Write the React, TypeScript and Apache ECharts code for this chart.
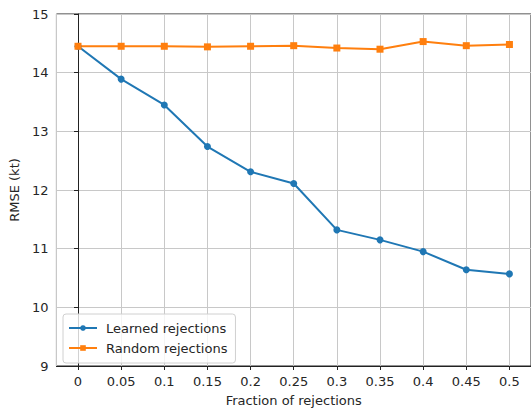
import React, { useEffect, useRef } from "react";
import * as echarts from "echarts";

const xValues = [0, 0.05, 0.1, 0.15, 0.2, 0.25, 0.3, 0.35, 0.4, 0.45, 0.5];
const learned = [14.45, 13.89, 13.45, 12.74, 12.31, 12.11, 11.32, 11.15, 10.95, 10.64, 10.57];
const random = [14.45, 14.45, 14.45, 14.44, 14.45, 14.46, 14.42, 14.4, 14.53, 14.46, 14.48];
const seriesNames = ["Learned rejections", "Random rejections"];

export default function App() {
  const ref = useRef<HTMLDivElement>(null);
  useEffect(() => {
    document.body.style.margin = "0";
    const chart = echarts.init(ref.current!, null, { renderer: "svg" });
    const font = "DejaVu Sans";
    const textColor = "#262626";
    const fs = 13;
    chart.setOption({
      animation: false,
      textStyle: { fontFamily: font },
      grid: {
        left: 56,
        top: 14,
        right: 0,
        bottom: 45,
        show: true,
        borderColor: "#222",
        borderWidth: 1,
        containLabel: false,
      },
      legend: {
        orient: "vertical",
        left: 63,
        top: 314,
        padding: [6, 8, 7, 5],
        itemGap: 4,
        itemWidth: 28,
        itemHeight: 7,
        borderColor: "#d0d0d0",
        borderWidth: 1,
        borderRadius: 3,
        backgroundColor: "rgba(255,255,255,0.8)",
        textStyle: {
          fontFamily: font,
          fontSize: fs,
          lineHeight: 16,
          color: textColor,
          padding: [0, 0, 0, 4],
        },
        data: seriesNames,
      },
      xAxis: {
        type: "value",
        min: -0.025,
        max: 0.525,
        splitNumber: 11,
        name: "Fraction of rejections",
        nameLocation: "middle",
        nameGap: 28,
        nameTextStyle: { fontFamily: font, fontSize: fs, color: textColor },
        axisLine: { show: true, onZero: false, lineStyle: { color: "#222", width: 1 } },
        axisTick: { show: true, length: 4, lineStyle: { color: "#222" } },
        axisLabel: {
          showMinLabel: false,
          showMaxLabel: false,
          margin: 9,
          fontFamily: font,
          fontSize: fs,
          color: textColor,
        },
        splitLine: { show: true, lineStyle: { color: "#c8c8c8", width: 1 } },
      },
      yAxis: {
        type: "value",
        min: 9,
        max: 15,
        interval: 1,
        name: "RMSE (kt)",
        nameLocation: "middle",
        nameGap: 30,
        nameTextStyle: { fontFamily: font, fontSize: fs, color: textColor },
        axisLine: { show: true, lineStyle: { color: "#222", width: 1 } },
        axisTick: { show: true, length: 4, lineStyle: { color: "#222" } },
        axisLabel: { margin: 8, fontFamily: font, fontSize: fs, color: textColor },
        splitLine: { show: true, lineStyle: { color: "#c8c8c8", width: 1 } },
      },
      series: [
        {
          name: seriesNames[0],
          type: "line",
          data: xValues.map((x, i) => [x, learned[i]]),
          symbol: "circle",
          symbolSize: 7,
          itemStyle: { color: "#1f77b4" },
          lineStyle: { color: "#1f77b4", width: 2 },
        },
        {
          name: seriesNames[1],
          type: "line",
          data: xValues.map((x, i) => [x, random[i]]),
          symbol: "rect",
          symbolSize: 7,
          itemStyle: { color: "#ff7f0e" },
          lineStyle: { color: "#ff7f0e", width: 2 },
        },
      ],
    });
    return () => chart.dispose();
  }, []);
  return <div ref={ref} style={{ width: 531, height: 412 }} />;
}
